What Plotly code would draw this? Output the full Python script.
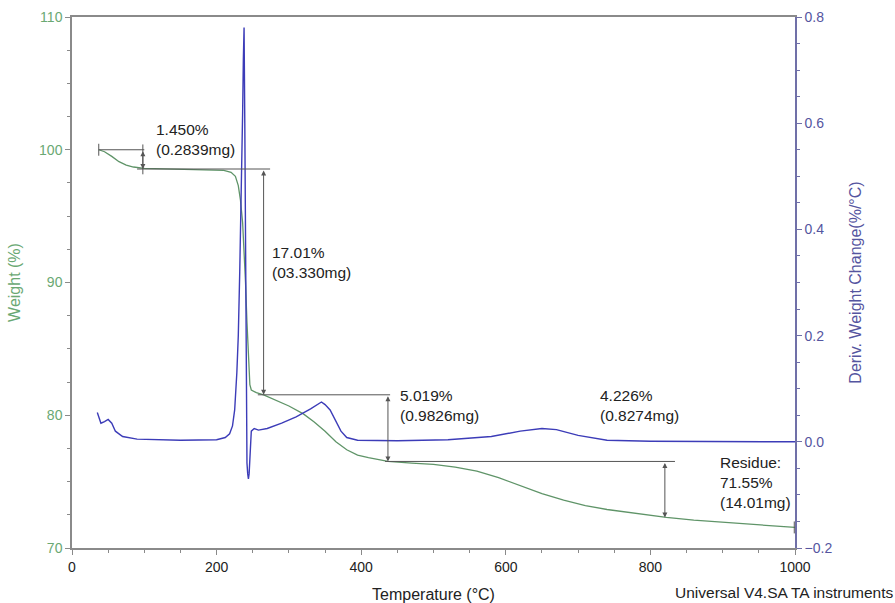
import plotly.graph_objects as go

# TGA run: temperature (°C) vs weight (%)
temp_w = [37, 45, 55, 65, 75, 85, 100, 130, 160, 190, 210, 220, 226, 230, 233, 236, 238,
          240, 242, 244, 246, 248, 255, 265, 280, 300, 320, 335, 350, 365, 380, 395, 410,
          437, 470, 500, 530, 560, 590, 620, 650, 680, 710, 740, 780, 822, 860, 900, 950, 1000]
weight = [100.0, 99.85, 99.5, 99.1, 98.85, 98.7, 98.6, 98.57, 98.55, 98.5, 98.45, 98.3, 98.0,
          97.3, 96.2, 94.5, 92.5, 90.0, 87.0, 84.0, 82.3, 81.9, 81.7, 81.54, 81.2, 80.7, 80.1,
          79.5, 78.8, 78.0, 77.4, 77.0, 76.8, 76.52, 76.4, 76.3, 76.1, 75.8, 75.3, 74.7, 74.1,
          73.6, 73.2, 72.9, 72.6, 72.3, 72.1, 71.95, 71.75, 71.55]

# Derivative weight change (%/°C)
temp_d = [35, 40, 45, 50, 55, 60, 70, 90, 150, 200, 212, 218, 222, 225, 228, 230, 232, 234,
          236, 237, 238, 239, 240, 241, 242, 243, 244, 245, 246, 248, 252, 258, 270, 290, 310,
          330, 345, 350, 357, 365, 372, 380, 395, 450, 520, 580, 620, 650, 670, 700, 740, 800,
          900, 1000]
deriv = [0.055, 0.035, 0.038, 0.042, 0.035, 0.02, 0.01, 0.005, 0.003, 0.004, 0.008, 0.015,
         0.03, 0.06, 0.13, 0.2, 0.32, 0.45, 0.62, 0.72, 0.78, 0.6, 0.3, 0.0, -0.04, -0.06,
         -0.07, -0.06, -0.02, 0.02, 0.025, 0.022, 0.025, 0.035, 0.047, 0.062, 0.075, 0.07,
         0.06, 0.04, 0.02, 0.008, 0.003, 0.002, 0.004, 0.01, 0.02, 0.025, 0.023, 0.012, 0.003,
         0.001, 0.001, 0.0]

# Step analysis: plateau levels and where each step is measured
start_temp = 37
end_temp = 1000
step_levels = [100.0, 98.55, 81.54, 76.52, 72.29]
step_temps = [98, 265, 437, 820]
# horizontal extents of the plateau guide lines (°C)
plateau_spans = [(37, 100), (90, 274), (257, 440), (433, 834)]
step_labels = ["1.450%<br>(0.2839mg)", "17.01%<br>(03.330mg)",
               "5.019%<br>(0.9826mg)", "4.226%<br>(0.8274mg)"]
label_pos = [(113, 100.75), (274, 91.5), (451, 80.7), (727, 80.7)]
residue_text = "Residue:<br>71.55%<br>(14.01mg)"
residue_pos = (893, 74.95)

GREEN = "#6aa873"
GREEN_LINE = "#5f9468"
BLUE = "#55559f"
BLUE_LINE = "#3c3cb8"
GUIDE = "#555555"
FONT = "Liberation Sans, Arial, sans-serif"
LABEL_SIZE = 15.5
TITLE_SIZE = 16

fig = go.Figure()
fig.add_trace(go.Scatter(x=temp_w, y=weight, mode="lines",
                         line=dict(color=GREEN_LINE, width=1.3), yaxis="y"))
fig.add_trace(go.Scatter(x=temp_d, y=deriv, mode="lines",
                         line=dict(color=BLUE_LINE, width=1.4), yaxis="y2"))

shapes = []
for (x0, x1), lvl in zip(plateau_spans, step_levels[:4]):
    shapes.append(dict(type="line", xref="x", yref="y", x0=x0, x1=x1, y0=lvl, y1=lvl,
                       line=dict(color=GUIDE, width=1)))
# start and end markers
shapes.append(dict(type="line", xref="x", yref="y", x0=start_temp, x1=start_temp,
                   y0=step_levels[0] - 0.45, y1=step_levels[0] + 0.45,
                   line=dict(color=GUIDE, width=1)))
shapes.append(dict(type="line", xref="x", yref="y", x0=end_temp - 1, x1=end_temp - 1,
                   y0=weight[-1] - 0.45, y1=weight[-1] + 0.45,
                   line=dict(color=GUIDE, width=1)))
# short cross-tick on the first step
shapes.append(dict(type="line", xref="x", yref="y", x0=step_temps[0], x1=step_temps[0],
                   y0=step_levels[1] - 0.4, y1=step_levels[0] + 0.4,
                   line=dict(color=GUIDE, width=1)))

annotations = []
for i, xs in enumerate(step_temps):
    annotations.append(dict(x=xs, y=step_levels[i + 1], ax=xs, ay=step_levels[i],
                            xref="x", yref="y", axref="x", ayref="y", text="",
                            showarrow=True, arrowhead=2, arrowsize=1, arrowwidth=1,
                            arrowside="end+start", arrowcolor=GUIDE, standoff=0,
                            startstandoff=0))
for txt, (tx, ty) in zip(step_labels, label_pos):
    annotations.append(dict(x=tx, y=ty, xref="x", yref="y", text=txt, showarrow=False,
                            xanchor="left", yanchor="middle", align="left",
                            font=dict(family=FONT, size=LABEL_SIZE, color="#222222")))
annotations.append(dict(x=residue_pos[0], y=residue_pos[1], xref="x", yref="y",
                        text=residue_text, showarrow=False, xanchor="left",
                        yanchor="middle", align="left",
                        font=dict(family=FONT, size=LABEL_SIZE, color="#222222")))
annotations.append(dict(x=1.138, y=-0.083, xref="paper", yref="paper",
                        text="Universal V4.SA TA instruments", showarrow=False,
                        xanchor="right", yanchor="middle",
                        font=dict(family=FONT, size=LABEL_SIZE, color="#222222")))

fig.update_layout(
    width=895, height=603,
    margin=dict(l=72, r=100, t=17, b=55, autoexpand=False),
    plot_bgcolor="white", paper_bgcolor="white",
    showlegend=False,
    font=dict(family=FONT, size=14),
    xaxis=dict(range=[0, 1000], tickvals=[0, 200, 400, 600, 800, 1000], automargin=False,
               showgrid=False, zeroline=False, showline=True, mirror=True,
               linecolor="#8a8a8a", linewidth=1.5, ticks="outside", ticklen=5,
               tickcolor="#8a8a8a",
               minor=dict(dtick=50, ticks="outside", ticklen=3, tickcolor="#8a8a8a"),
               tickfont=dict(color="#222222", size=14),
               title=dict(text="Temperature (°C)", standoff=15,
                          font=dict(color="#222222", size=TITLE_SIZE))),
    yaxis=dict(range=[70, 110], tickvals=[70, 80, 90, 100, 110], showgrid=False,
               automargin=False,
               zeroline=False, showline=True, linecolor="#8a8a8a", linewidth=1.5,
               ticks="outside", ticklen=5, tickcolor="#8a8a8a",
               minor=dict(dtick=2.5, ticks="outside", ticklen=3, tickcolor="#8a8a8a"),
               tickfont=dict(color=GREEN, size=14),
               title=dict(text="Weight (%)", standoff=14,
                          font=dict(color=GREEN, size=TITLE_SIZE))),
    yaxis2=dict(range=[-0.2, 0.8], tickvals=[-0.2, 0, 0.2, 0.4, 0.6, 0.8],
                ticktext=["\u22120.2", "0.0", "0.2", "0.4", "0.6", "0.8"],
                automargin=False,
                overlaying="y", side="right", showgrid=False, zeroline=False,
                showline=True, linecolor="#7070a8", linewidth=1.5, ticks="outside",
                ticklen=5, tickcolor="#7070a8",
                minor=dict(dtick=0.05, ticks="outside", ticklen=3, tickcolor="#7070a8"),
                tickfont=dict(color=BLUE, size=14),
                title=dict(text="Deriv. Weight Change(%/°C)", standoff=18,
                           font=dict(color=BLUE, size=TITLE_SIZE))),
    shapes=shapes,
    annotations=annotations,
)

fig.write_html("out.html")
